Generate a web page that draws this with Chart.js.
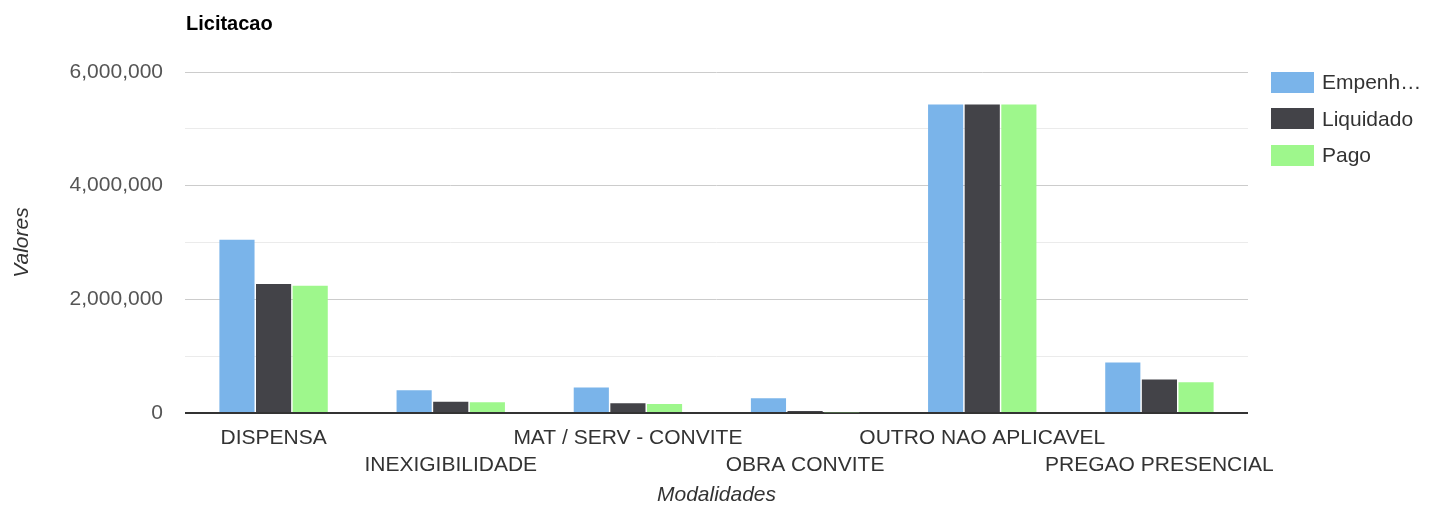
<!DOCTYPE html>
<html>
<head>
<meta charset="utf-8">
<script src="https://cdn.jsdelivr.net/npm/chart.js@4.4.1/dist/chart.umd.min.js"></script>
<style>
    body { margin: 0; background: #fff; font-family: Arial, "Liberation Sans", sans-serif; }
    #wrap { position: relative; width: 1442px; height: 509px; }
    #title { position: absolute; left: 186px; top: 12px; font-size: 20px; font-weight: bold; color: #000; }
    #legend { position: absolute; left: 1271px; top: 64px; }
    .item { display: flex; align-items: center; height: 36.5px; font-size: 21px; color: #333; }
    .box { width: 43px; height: 21px; margin-right: 8px; }
</style>
</head>
<body>
<div id="wrap">
    <canvas id="chart" width="1442" height="509"></canvas>
    <div id="title">Licitacao</div>
    <div id="legend"></div>
</div>
<script>
// dados
const categorias = ['DISPENSA', 'INEXIGIBILIDADE', 'MAT / SERV - CONVITE', 'OBRA CONVITE', 'OUTRO NAO APLICAVEL', 'PREGAO PRESENCIAL'];
const empenhado = [3050000, 400000, 450000, 260000, 5430000, 890000];
const liquidado = [2270000, 200000, 170000, 35000, 5430000, 590000];
const pago = [2240000, 190000, 160000, 12000, 5430000, 540000];
const nomesSeries = ['Empenhado', 'Liquidado', 'Pago'];
const cores = ['#7ab4ea', '#434348', '#9ef78c'];
const yTicks = [0, 2000000, 4000000, 6000000];

Chart.defaults.font.family = 'Arial, "Liberation Sans", sans-serif';
Chart.defaults.animation = false;

const series = [empenhado, liquidado, pago];

const ctx = document.getElementById('chart').getContext('2d');
const chart = new Chart(ctx, {
    type: 'bar',
    data: {
        labels: categorias,
        datasets: series.map((valores, i) => ({
            label: nomesSeries[i],
            data: valores,
            backgroundColor: cores[i],
            categoryPercentage: 0.62,
            barPercentage: 0.96
        }))
    },
    options: {
        responsive: false,
        layout: { padding: { top: 72, right: 194, bottom: 0, left: 0 } },
        plugins: {
            legend: { display: false },
            tooltip: { enabled: false }
        },
        scales: {
            x: {
                grid: { display: false, drawTicks: false },
                border: { display: false },
                ticks: {
                    autoSkip: false,
                    maxRotation: 0,
                    padding: 12,
                    color: '#333',
                    font: { size: 21, lineHeight: 1.29 },
                    // rotulos alternados em duas linhas
                    callback: (value, index) => index % 2 === 0 ? [categorias[index]] : ['', categorias[index]]
                },
                title: {
                    display: true,
                    text: 'Modalidades',
                    color: '#333',
                    font: { size: 21, style: 'italic' },
                    padding: { top: 2, bottom: 1 }
                },
                afterFit: scale => { scale.height = 96; }
            },
            y: {
                min: 0,
                max: 6000000,
                border: { display: false },
                grid: {
                    drawTicks: false,
                    color: c => c.tick.value === 0 ? '#333' : (yTicks.includes(c.tick.value) ? '#cccccc' : '#ebebeb'),
                    lineWidth: c => c.tick.value === 0 ? 2 : 1
                },
                ticks: {
                    stepSize: 1000000,
                    padding: 22,
                    color: '#555',
                    font: { size: 21 },
                    callback: value => yTicks.includes(value) ? value.toLocaleString('en-US') : ''
                },
                title: {
                    display: true,
                    text: 'Valores',
                    color: '#333',
                    font: { size: 21, style: 'italic' },
                    padding: { top: 10, bottom: 0 }
                },
                afterFit: scale => { scale.width = 185; }
            }
        }
    }
});

// legenda em HTML, nomes que nao cabem sao cortados como no original
const legend = document.getElementById('legend');
const medidor = document.createElement('canvas').getContext('2d');
medidor.font = '21px Arial, "Liberation Sans", sans-serif';
const larguraMax = 102;

chart.data.datasets.forEach(ds => {
    let nome = ds.label;
    if (medidor.measureText(nome).width > larguraMax) {
        while (nome.length > 1 && medidor.measureText(nome + '\u2026').width > larguraMax) {
            nome = nome.slice(0, -1);
        }
        nome += '\u2026';
    }
    const item = document.createElement('div');
    item.className = 'item';
    item.innerHTML = '<div class="box" style="background:' + ds.backgroundColor + '"></div><span>' + nome + '</span>';
    legend.appendChild(item);
});
</script>
</body>
</html>
